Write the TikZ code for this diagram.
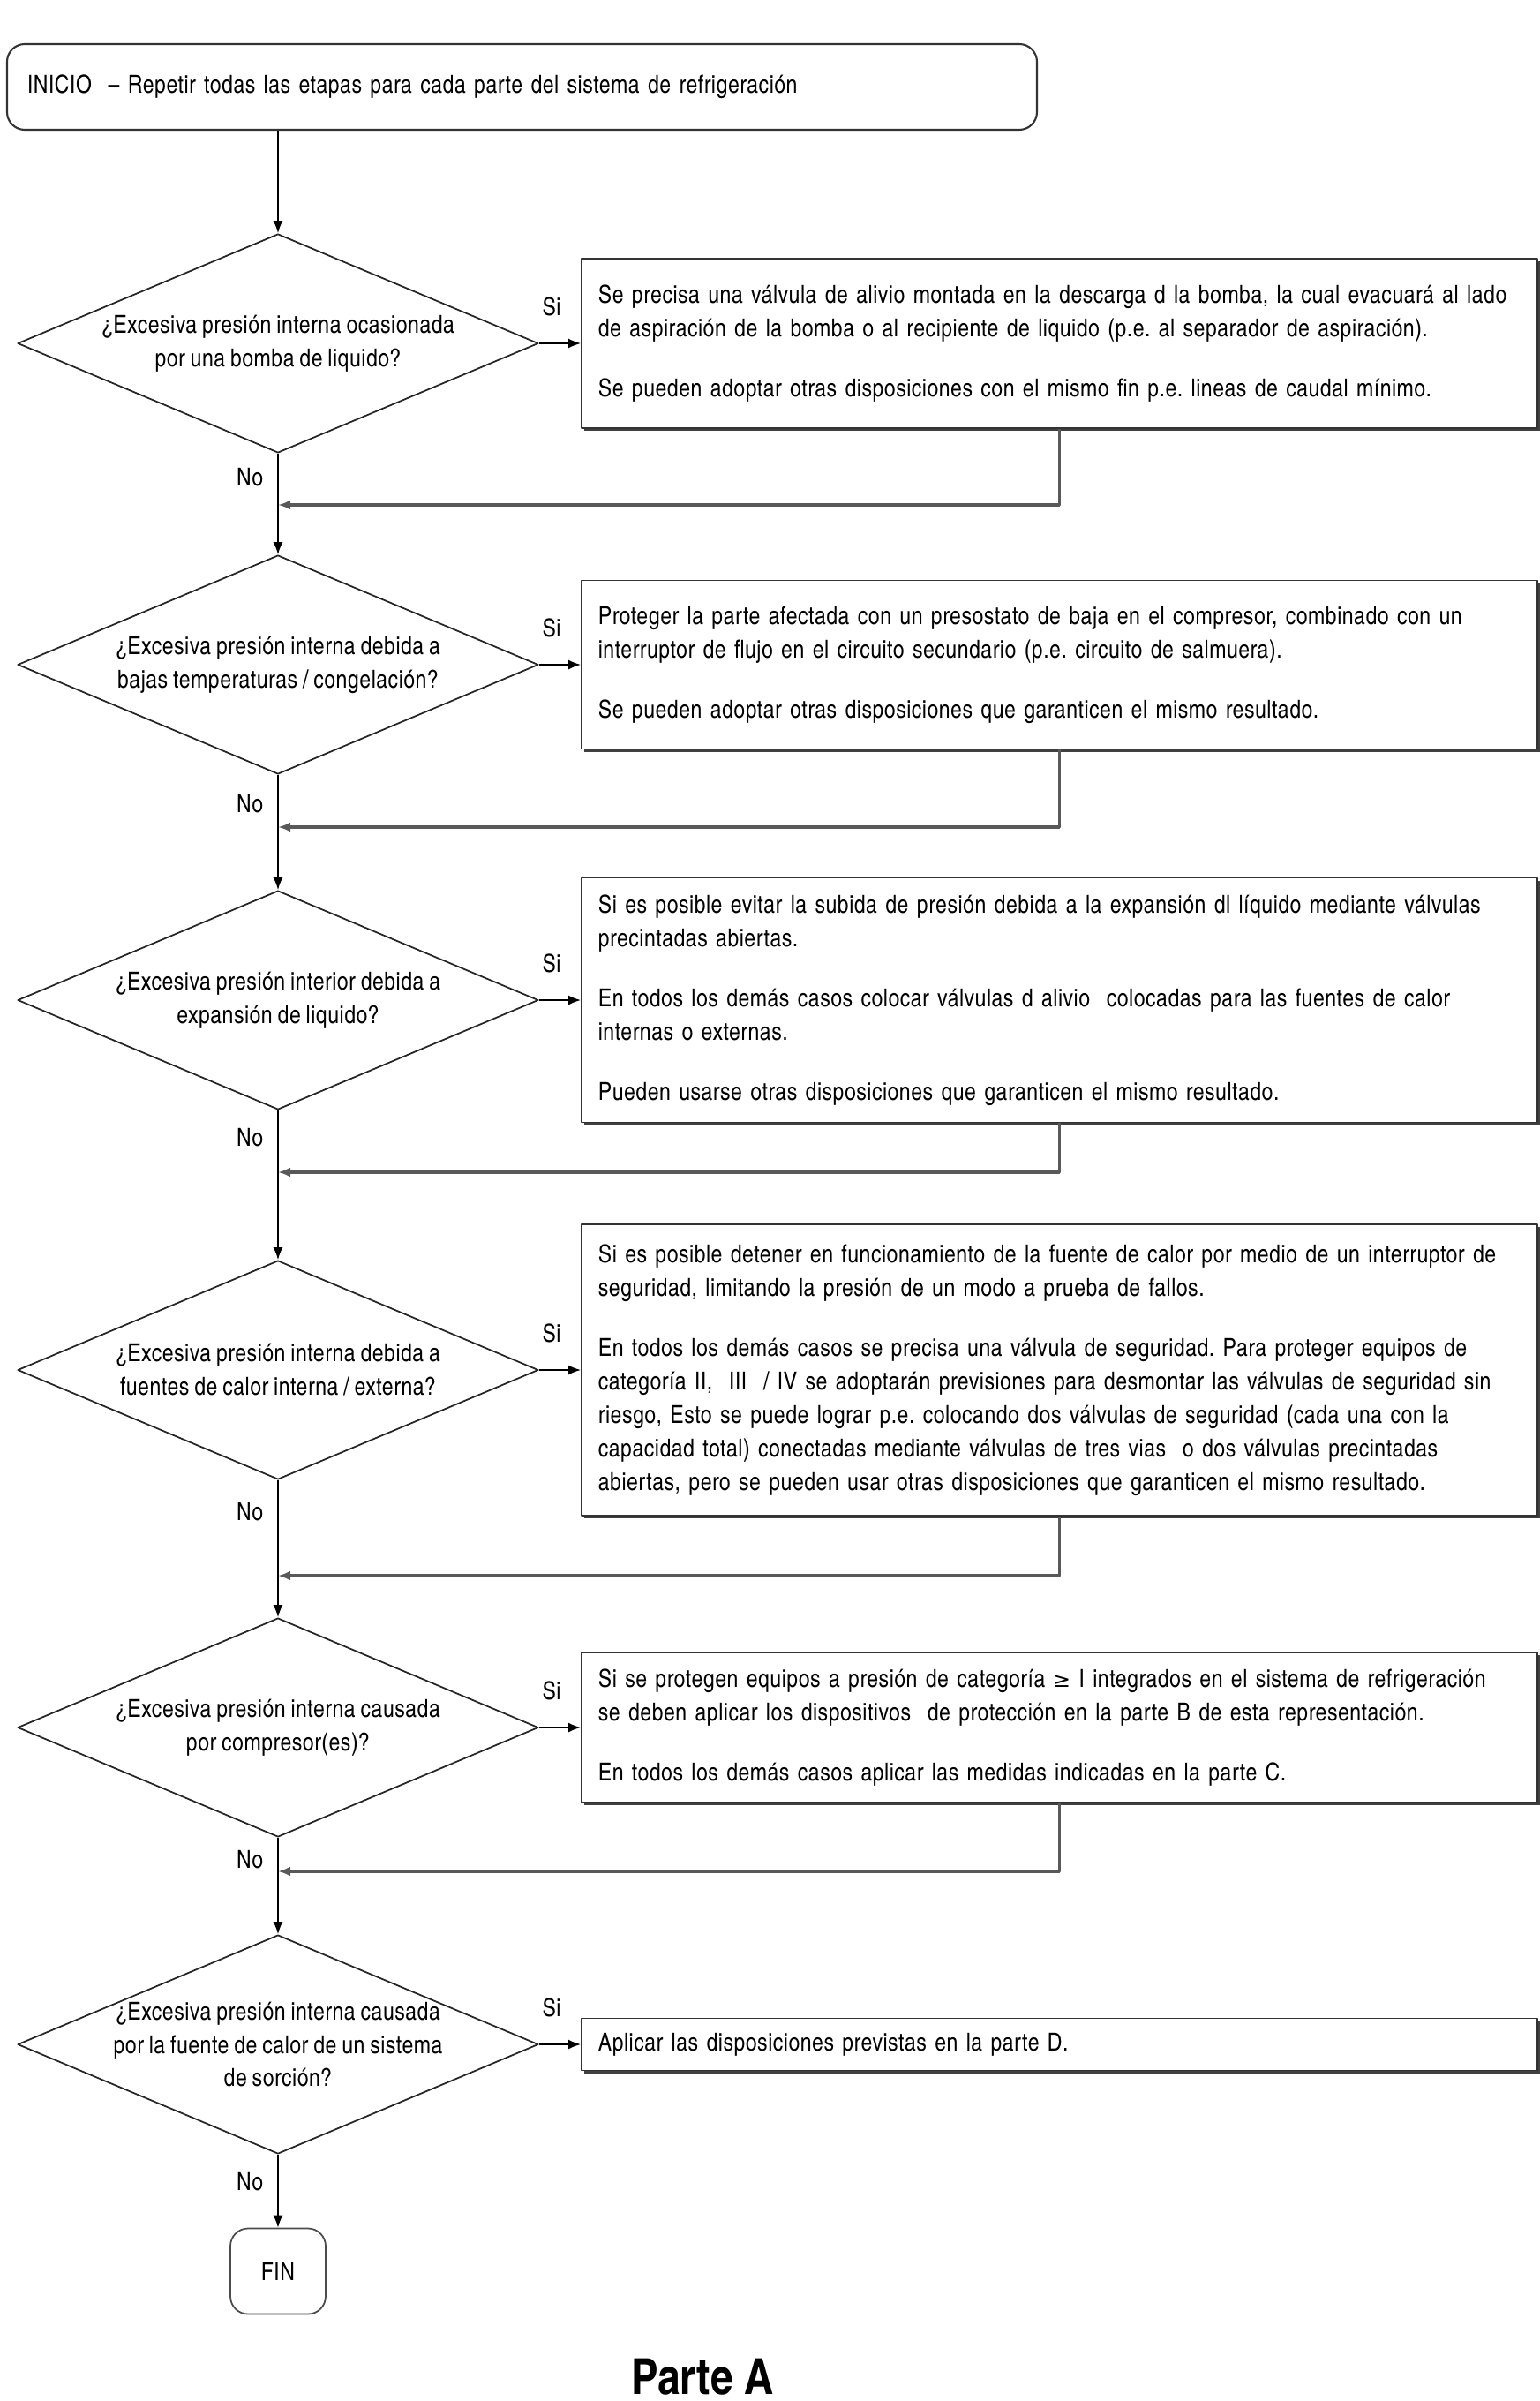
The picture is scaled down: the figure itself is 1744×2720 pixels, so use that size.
\documentclass[tikz,border=0pt]{standalone}
\usepackage{fontspec}
\setmainfont{texgyreheroscn}[Extension=.otf,UprightFont=*-regular,BoldFont=*-bold,
  LetterSpace=1.8,WordSpace=0.85]
\newfontfamily\titlefont{texgyreheroscn-bold.otf}
\newfontfamily\symfont{DejaVu Sans}
\usetikzlibrary{shapes.geometric,arrows.meta,shadows}
\tikzset{
  startbox/.style={draw=black!80, line width=.6pt, rounded corners=2mm, minimum width=116.7mm,
    minimum height=9.7mm, inner xsep=2.3mm, text width=112.1mm, align=left},
  decision/.style={draw=black!85, diamond, line width=.5pt, minimum width=59mm,
    minimum height=24.8mm, inner sep=0pt},
  qtext/.style={align=center, inner sep=0pt},
  infobox/.style={draw=black!80, fill=white, line width=.5pt, anchor=west, minimum width=108.3mm,
    text width=104.5mm, inner xsep=1.9mm, inner ysep=1mm, align=left,
    drop shadow={shadow xshift=.3mm, shadow yshift=-.3mm, fill=black!75, opacity=1}},
  endbox/.style={draw=black!70, line width=.5pt, rounded corners=2mm, minimum width=10.8mm,
    minimum height=9.7mm},
  lbl/.style={inner sep=.5mm},
  flow/.style={-{Latex[length=1.4mm,width=1.1mm]}, line width=.45pt},
  back/.style={flow, draw=black!65, line width=.9pt}
}
\begin{document}
\frenchspacing
\begin{tikzpicture}[x=0.1mm, y=-0.1mm, font=\fontsize{8}{10.8}\selectfont,
  line join=round, >=Latex]
\useasboundingbox (0,0) rectangle (1744,2720);
% inicio
\node[startbox] (start) at (591.5,98.5) {INICIO \ -- Repetir todas las etapas para cada parte del sistema de refrigeración};
% preguntas
\node[decision] (d1) at (315,389) {};
\node[qtext] (q1) at (d1) {¿Excesiva presión interna ocasionada\\por una bomba de liquido?};
\node[decision] (d2) at (315,753) {};
\node[qtext] (q2) at (d2) {¿Excesiva presión interna debida a\\bajas temperaturas / congelación?};
\node[decision] (d3) at (315,1133) {};
\node[qtext] (q3) at (d3) {¿Excesiva presión interior debida a\\expansión de liquido?};
\node[decision] (d4) at (315,1552) {};
\node[qtext] (q4) at (d4) {¿Excesiva presión interna debida a\\fuentes de calor interna / externa?};
\node[decision] (d5) at (315,1957) {};
\node[qtext] (q5) at (d5) {¿Excesiva presión interna causada\\por compresor(es)?};
\node[decision] (d6) at (315,2316) {};
\node[qtext] (q6) at (d6) {¿Excesiva presión interna causada\\por la fuente de calor de un sistema\\de sorción?};
% medidas
\node[infobox, minimum height=19.2mm] (b1) at (658,389) {Se precisa una válvula de alivio montada en la descarga d la bomba, la cual evacuará al lado\\
de aspiración de la bomba o al recipiente de liquido (p.e.\ al separador de aspiración).\\[3mm]
Se pueden adoptar otras disposiciones con el mismo fin p.e. lineas de caudal mínimo.};
\node[infobox, minimum height=19.1mm] (b2) at (658,753) {Proteger la parte afectada con un presostato de baja en el compresor, combinado con un\\
interruptor de flujo en el circuito secundario (p.e. circuito de salmuera).\\[3mm]
Se pueden adoptar otras disposiciones que garanticen el mismo resultado.};
\node[infobox, minimum height=27.7mm] (b3) at (658,1133) {Si es posible evitar la subida de presión debida a la expansión dl líquido mediante válvulas\\
precintadas abiertas.\\[3mm]
En todos los demás casos colocar válvulas d alivio \ colocadas para las fuentes de calor\\
internas o externas.\\[3mm]
Pueden usarse otras disposiciones que garanticen el mismo resultado.};
\node[infobox, minimum height=33mm] (b4) at (658,1552) {Si es posible detener en funcionamiento de la fuente de calor por medio de un interruptor de\\
seguridad, limitando la presión de un modo a prueba de fallos.\\[3mm]
En todos los demás casos se precisa una válvula de seguridad. Para proteger equipos de\\
categoría II, \ III \ / IV se adoptarán previsiones para desmontar las válvulas de seguridad sin\\
riesgo, Esto se puede lograr p.e. colocando dos válvulas de seguridad (cada una con la\\
capacidad total) conectadas mediante válvulas de tres vias \ o dos válvulas precintadas\\
abiertas, pero se pueden usar otras disposiciones que garanticen el mismo resultado.};
\node[infobox, minimum height=17mm] (b5) at (658,1957) {Si se protegen equipos a presión de categoría {\symfont\fontsize{6.6}{10.8}\selectfont ≥} I integrados en el sistema de refrigeración\\
se deben aplicar los dispositivos \ de protección en la parte B de esta representación.\\[3mm]
En todos los demás casos aplicar las medidas indicadas en la parte C.};
\node[infobox, minimum height=5.9mm] (b6) at (658,2316) {Aplicar las disposiciones previstas en la parte D.};
% fin
\node[endbox] (fin) at (315,2573) {FIN};
\node[font=\titlefont\fontsize{16}{19}\selectfont] (parte) at (796,2693) {Parte A};
% flujo principal
\draw[flow] (d1 |- start.south) -- (d1.north);
\foreach \a/\b/\p in {d1/d2/.23, d2/d3/.25, d3/d4/.18, d4/d5/.23, d5/d6/.23, d6/fin/.37}
  \draw[flow] (\a.south) -- node[lbl, pos=\p, left=1.1mm] {No} (\b.north);
% si
\foreach \i in {1,...,6}
  \draw[flow] (d\i.east) -- node[lbl, pos=.3, above=2.5mm] {Si} (b\i.west);
% retornos
\foreach \i/\y in {1/572, 2/937, 3/1328, 4/1785, 5/2120} {
  \coordinate (j\i) at (315,\y);
  \draw[back] (b\i.south) |- (j\i);
}
\end{tikzpicture}
\end{document}
